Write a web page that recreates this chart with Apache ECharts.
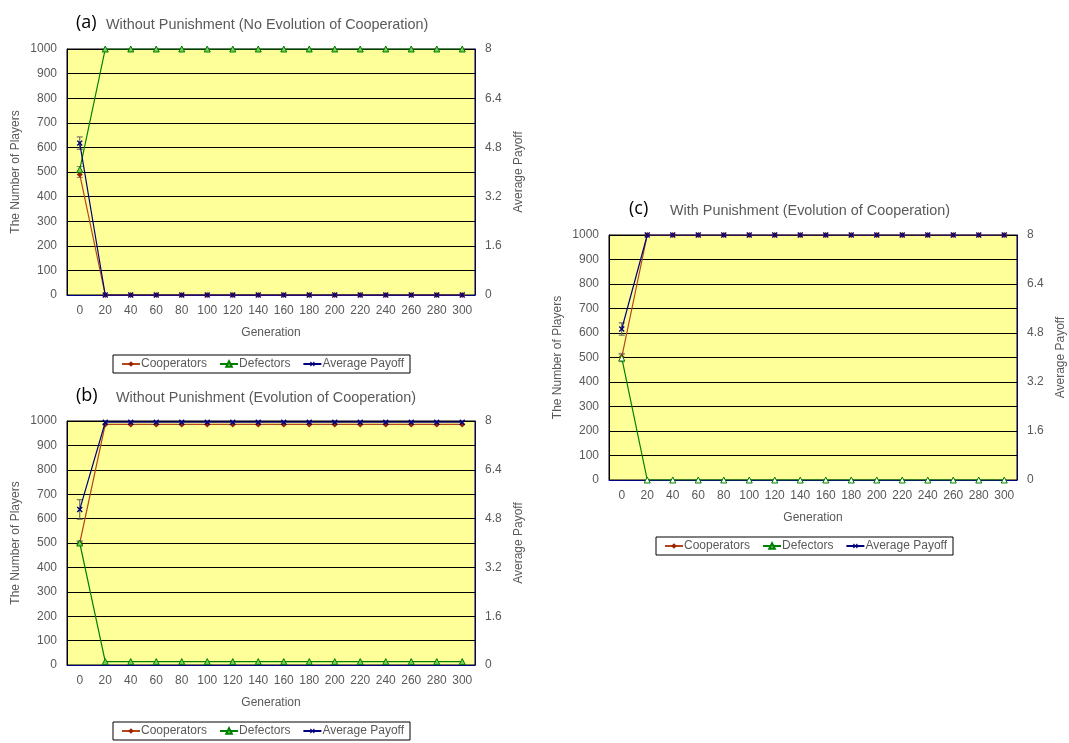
<!DOCTYPE html>
<html><head><meta charset="utf-8">
<script src="https://cdn.jsdelivr.net/npm/echarts@6/dist/echarts.min.js"></script>
<style>html,body{margin:0;padding:0;background:#fff}#c{width:1069px;height:743px}</style>
</head><body><div id="c"></div>
<script>
const generations = ['0','20','40','60','80','100','120','140','160','180','200','220','240','260','280','300'];
// (a) Without punishment, no evolution of cooperation
const aCoop = [490,0,0,0,0,0,0,0,0,0,0,0,0,0,0,0];
const aDef  = [510,1000,1000,1000,1000,1000,1000,1000,1000,1000,1000,1000,1000,1000,1000,1000];
const aPay  = [4.94,0,0,0,0,0,0,0,0,0,0,0,0,0,0,0];
const aCoopErr = [12,0,0,0,0,0,0,0,0,0,0,0,0,0,0,0];
const aDefErr  = [12,0,0,0,0,0,0,0,0,0,0,0,0,0,0,0];
const aPayErr  = [0.2,0,0,0,0,0,0,0,0,0,0,0,0,0,0,0];
// (b) Without punishment, evolution of cooperation
const bCoop = [500,986,986,986,986,986,986,986,986,986,986,986,986,986,986,986];
const bDef  = [500,14,14,14,14,14,14,14,14,14,14,14,14,14,14,14];
const bPay  = [5.1,7.96,7.96,7.96,7.96,7.96,7.96,7.96,7.96,7.96,7.96,7.96,7.96,7.96,7.96,7.96];
const bCoopErr = [8,0,0,0,0,0,0,0,0,0,0,0,0,0,0,0];
const bDefErr  = [8,0,0,0,0,0,0,0,0,0,0,0,0,0,0,0];
const bPayErr  = [0.32,0,0,0,0,0,0,0,0,0,0,0,0,0,0,0];
// (c) With punishment
const cCoop = [502,1000,1000,1000,1000,1000,1000,1000,1000,1000,1000,1000,1000,1000,1000,1000];
const cDef  = [498,0,0,0,0,0,0,0,0,0,0,0,0,0,0,0];
const cPay  = [4.93,8,8,8,8,8,8,8,8,8,8,8,8,8,8,8];
const cCoopErr = [15,0,0,0,0,0,0,0,0,0,0,0,0,0,0,0];
const cDefErr  = [15,0,0,0,0,0,0,0,0,0,0,0,0,0,0,0];
const cPayErr  = [0.2,0,0,0,0,0,0,0,0,0,0,0,0,0,0,0];

const seriesNames = ['Cooperators','Defectors','Average Payoff'];
const panelLabels = ['(a)','(b)','(c)'];
const panelTitles = ['Without Punishment (No Evolution of Cooperation)','Without Punishment (Evolution of Cooperation)','With Punishment (Evolution of Cooperation)'];

const GREY = '#595959';
const FONT = '"Liberation Sans", Arial, sans-serif';
const COOP = '#B5461A', COOPM = '#992200';
const DEF = '#008000';
const PAY = '#000080';
const xMark = 'path://M4,0H6V4H10V6H6V10H4V6H0V4H4Z';

const grids = [
  {left:67, top:49, width:408, height:246},
  {left:67, top:421, width:408, height:244},
  {left:609, top:235, width:408, height:245}
];
const panels = [
  [aCoop,aDef,aPay,aCoopErr,aDefErr,aPayErr],
  [bCoop,bDef,bPay,bCoopErr,bDefErr,bPayErr],
  [cCoop,cDef,cPay,cCoopErr,cDefErr,cPayErr]
];
const defFill = ['#7CCB5B','#7CCB5B','#FFFFFF'];

const option = {
  backgroundColor:'#fff',
  animation:false,
  textStyle:{fontFamily:FONT},
  title:[], legend:[], grid:[], xAxis:[], yAxis:[], series:[]
};
const titlePos = [[71,9,101,13],[71,382,111,386],[624,195,665,199]];
const legendPos = [[113,355],[113,722],[656,537]];

function errSeries(i, vals, errs, yIdx, color){
  const data = generations.map((g,k)=>[k, vals[k]-errs[k], vals[k]+errs[k], errs[k]]).filter(d=>d[3]>0);
  return {
    type:'custom', xAxisIndex:i, yAxisIndex:yIdx, silent:true, z:1,
    data:data,
    renderItem:function(params, api){
      const lo = api.coord([api.value(0), api.value(1)]);
      const hi = api.coord([api.value(0), api.value(2)]);
      const w = 3;
      return {type:'group', children:[
        {type:'line', shape:{x1:lo[0],y1:lo[1],x2:hi[0],y2:hi[1]}, style:{stroke:color,lineWidth:1}},
        {type:'line', shape:{x1:lo[0]-w,y1:lo[1],x2:lo[0]+w,y2:lo[1]}, style:{stroke:color,lineWidth:1}},
        {type:'line', shape:{x1:hi[0]-w,y1:hi[1],x2:hi[0]+w,y2:hi[1]}, style:{stroke:color,lineWidth:1}}
      ]};
    }
  };
}

for (let i=0;i<3;i++){
  const g = grids[i];
  option.grid.push(Object.assign({show:true, backgroundColor:'#FFFF99', borderColor:'#000', borderWidth:1}, g));
  option.title.push({text:panelLabels[i], left:titlePos[i][0], top:titlePos[i][1],
    textStyle:{fontFamily:'"Open Sans", "Noto Sans", sans-serif', fontSize:18, fontWeight:'normal', color:'#000'}});
  option.title.push({text:panelTitles[i], left:titlePos[i][2], top:titlePos[i][3],
    textStyle:{fontFamily:FONT, fontSize:14.4, fontWeight:'normal', color:GREY}});
  option.legend.push({
    data:seriesNames, left:legendPos[i][0], top:legendPos[i][1], orient:'horizontal',
    borderColor:'#000', borderWidth:1, padding:[3,6,3,8], itemGap:12, itemWidth:18, itemHeight:7,
    textStyle:{fontFamily:FONT, fontSize:12, color:GREY, padding:[0,0,0,-4]},
    selectedMode:false
  });
  option.xAxis.push({
    type:'category', gridIndex:i, data:generations, boundaryGap:true,
    axisLine:{lineStyle:{color:PAY}}, axisTick:{show:false},
    axisLabel:{color:GREY, fontSize:12, fontFamily:FONT, margin:10, interval:0},
    name:'Generation', nameLocation:'middle', nameGap:32,
    nameTextStyle:{color:GREY, fontSize:12, fontFamily:FONT},
    splitLine:{show:false}
  });
  option.yAxis.push({
    type:'value', gridIndex:i, min:0, max:1000, interval:100,
    axisLine:{show:true, lineStyle:{color:'#000'}}, axisTick:{show:false},
    axisLabel:{color:GREY, fontSize:12, fontFamily:FONT, margin:10, formatter:v=>String(v)},
    splitLine:{show:true, lineStyle:{color:'#000', width:1}},
    name:'The Number of Players', nameLocation:'middle', nameGap:45, nameRotate:90,
    nameTextStyle:{color:GREY, fontSize:12, fontFamily:FONT}
  });
  option.yAxis.push({
    type:'value', gridIndex:i, position:'right', min:0, max:8, interval:1.6,
    axisLine:{show:true, lineStyle:{color:PAY}}, axisTick:{show:false},
    axisLabel:{color:GREY, fontSize:12, fontFamily:FONT, margin:10, formatter:v=>String(Math.round(v*10)/10)},
    splitLine:{show:false},
    name:'Average Payoff', nameLocation:'middle', nameGap:38, nameRotate:90,
    nameTextStyle:{color:GREY, fontSize:12, fontFamily:FONT}
  });
  const [coop, def, pay, ce, de, pe] = panels[i];
  const yL = i*2, yR = i*2+1;
  option.series.push(errSeries(i, coop, ce, yL, '#7F7F7F'));
  option.series.push(errSeries(i, def, de, yL, '#7F7F7F'));
  option.series.push(errSeries(i, pay, pe, yR, '#595959'));
  option.series.push({
    name:'Cooperators', type:'line', xAxisIndex:i, yAxisIndex:yL, data:coop,
    symbol:'diamond', symbolSize:6, lineStyle:{color:COOP, width:1.2},
    itemStyle:{color:COOPM}, z:3
  });
  option.series.push({
    name:'Defectors', type:'line', xAxisIndex:i, yAxisIndex:yL, data:def,
    symbol:'triangle', symbolSize:6, lineStyle:{color:DEF, width:1.2},
    itemStyle:{color:defFill[i], borderColor:DEF, borderWidth:1}, z:4
  });
  option.series.push({
    name:'Average Payoff', type:'line', xAxisIndex:i, yAxisIndex:yR, data:pay,
    symbol:xMark, symbolRotate:45, symbolSize:7, lineStyle:{color:PAY, width:1.2},
    itemStyle:{color:PAY}, z:5
  });
}

const chart = echarts.init(document.getElementById('c'), null, {renderer:'canvas'});
chart.setOption(option);
</script>
</body></html>
